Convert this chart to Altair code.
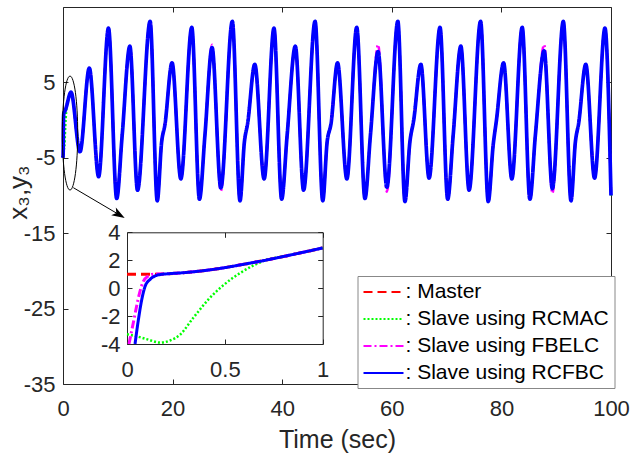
import altair as alt
import pandas as pd

# ---------------- data ----------------
SERIES = ["Master", "Slave using RCMAC", "Slave using FBELC", "Slave using RCFBC"]
COLORS = ["#ff0000", "#00ff00", "#ff00ff", "#0000ff"]
DASHES = [[9, 5], [2, 2], [8, 3, 2, 3], [1, 0]]

# common part of the start-up transient (0..1 s)
COMMON_T = [0.3, 0.4, 0.5, 0.6, 0.7, 0.8, 0.9, 1.0]
COMMON_V = [1.12, 1.27, 1.47, 1.72, 1.98, 2.27, 2.57, 2.88]

MASTER_T0 = [0.0, 0.1, 0.15, 0.2]
MASTER_V0 = [1.0, 1.0, 1.0, 1.02]
RCMAC_T0 = [0.0, 0.05, 0.1, 0.17, 0.22, 0.27, 0.34, 0.42, 0.5, 0.58, 0.65, 0.72]
RCMAC_V0 = [-3.3, -3.45, -3.65, -3.9, -3.75, -3.35, -2.1, -0.75, 0.3, 1.1, 1.65, 2.05]
FBELC_T0 = [0.0, 0.01, 0.032, 0.049, 0.066, 0.083, 0.109, 0.135, 0.2]
FBELC_V0 = [-5.0, -4.0, -2.5, -1.3, -0.25, 0.47, 0.87, 1.0, 1.02]
RCFBC_T0 = [0.0, 0.041, 0.058, 0.075, 0.092, 0.118, 0.143, 0.177, 0.2]
RCFBC_V0 = [-5.0, -4.0, -2.28, -0.85, 0.11, 0.63, 0.87, 0.99, 1.02]

# main oscillation (t > 1 s), peaks / troughs / shoulders
LATER_T = [1.46, 3.1, 4.8, 6.5, 8.3, 9.8, 10.8, 12.2, 13.6, 15.9,
           17.2, 18.0, 18.6, 19.9, 21.5, 23.5, 24.9, 25.9, 27.2, 28.8,
           30.9, 32.3, 33.1, 33.7, 35.0, 36.7, 38.5, 39.9, 40.9, 42.4,
           43.9, 46.0, 47.4, 48.2, 48.9, 50.1, 51.8, 53.6, 55.1, 56.1,
           57.5, 59.1, 61.1, 62.4, 63.3, 64.0, 65.3, 66.8, 68.8, 70.2,
           71.2, 72.6, 74.1, 76.2, 77.6, 78.5, 79.1, 80.4, 81.9, 83.8,
           85.2, 86.2, 87.8, 89.3, 91.3, 92.7, 93.5, 94.1, 95.4, 97.0,
           98.9, 100.0]
LATER_V = [3.7, -4.2, 6.9, -7.5, 12.2, -10.4, -2.0, 9.8, -9.3, 13.1,
           -10.7, -2.9, -0.6, 7.6, -7.8, 12.3, -10.5, -2.0, 9.6, -9.0,
           13.1, -10.7, -2.9, -0.4, 7.4, -7.8, 12.2, -10.5, -2.0, 9.8,
           -9.3, 13.1, -10.7, -2.9, -0.5, 7.6, -7.8, 12.3, -10.4, -2.0,
           9.1, -8.9, 13.1, -10.8, -2.9, 0.0, 7.4, -7.7, 12.3, -10.5,
           -2.0, 9.8, -9.3, 13.1, -10.8, -3.3, 0.0, 7.6, -7.8, 12.3,
           -10.5, -2.0, 9.2, -9.1, 13.1, -10.7, -2.9, -0.4, 7.4, -7.7,
           12.2, -10.0]
# FBELC slightly overshoots at some extrema
FBELC_DIFF_T = [27.2, 28.8, 57.5, 59.1, 87.8, 89.3]
FBELC_DIFF_V = [10.0, -9.4, 10.0, -9.5, 10.0, -9.7]

# annotation (ellipse + arrow) in data coordinates
ELL_T, ELL_V = [1.28], [-1.72]
ARR_T, ARR_V, ARR_T2, ARR_V2 = [1.88], [-8.96], [10.24], [-12.54]
HEAD_T, HEAD_V = [10.24], [-12.54]

MAIN_XTICKS = [0, 20, 40, 60, 80, 100]
MAIN_YTICKS = [-35, -25, -15, -5, 5]
INSET_XTICKS = [0, 0.5, 1]
INSET_YTICKS = [-4, -2, 0, 2, 4]

# ---------------- tables ----------------
rows = []
starts = {"Master": (MASTER_T0, MASTER_V0), "Slave using RCMAC": (RCMAC_T0, RCMAC_V0),
          "Slave using FBELC": (FBELC_T0, FBELC_V0), "Slave using RCFBC": (RCFBC_T0, RCFBC_V0)}
for name in SERIES:
    t0, v0 = starts[name]
    tt = list(t0) + [t for t in COMMON_T if t > t0[-1]]
    vv = list(v0) + [v for t, v in zip(COMMON_T, COMMON_V) if t > t0[-1]]
    lv = list(LATER_V)
    if name == "Slave using FBELC":
        for t, v in zip(FBELC_DIFF_T, FBELC_DIFF_V):
            lv[LATER_T.index(t)] = v
    for t, v in zip(tt + LATER_T, vv + lv):
        rows.append({"t": t, "v": v, "series": name})
df = pd.DataFrame(rows)
inset_df = df[(df.t <= 1.0) & (df.v >= -4.0)]

W, H = 548, 377
F = "Liberation Sans"
C = "#262626"

X0 = alt.Scale(domain=[0, 100], nice=False, zero=False)
Y0 = alt.Scale(domain=[-35, 15], nice=False, zero=False)
IX = alt.Scale(domain=[0, 1], range=[64, 259.7], nice=False, zero=False)
IY = alt.Scale(domain=[-4, 4], range=[337, 225.3], nice=False, zero=False)

LEG = alt.Legend(title=None, orient="none", legendX=294.5, legendY=269, direction="vertical",
                 labelExpr="': ' + datum.label", symbolType="M -1 0 L 3 0", symbolSize=400,
                 symbolStrokeWidth=2, labelFontSize=21, labelFont=F, labelColor="black",
                 fillColor="white", strokeColor="#888888", padding=5, rowPadding=6,
                 labelOffset=21, labelLimit=400)
color = alt.Color("series:N", scale=alt.Scale(domain=SERIES, range=COLORS), legend=LEG)
dash = alt.StrokeDash("series:N", scale=alt.Scale(domain=SERIES, range=DASHES), legend=LEG)

LBL = "'' + datum.value"
AX_MX = alt.Axis(orient="bottom", values=MAIN_XTICKS, labelExpr=LBL, ticks=False, tickSize=0,
                 labelFontSize=22, labelPadding=14, title="Time (sec)", titleFontSize=25,
                 titlePadding=8, domain=True)
AX_MY = alt.Axis(orient="left", values=MAIN_YTICKS, labelExpr=LBL, ticks=False, tickSize=0,
                 labelFontSize=22, labelPadding=8, title="x₃,y₃", titleFontSize=26,
                 titleAngle=270, titleX=-37, titleY=185, titleAlign="center",
                 titleBaseline="alphabetic", domain=True)
AX_MX_IN_B = alt.Axis(orient="top", offset=-H, values=MAIN_XTICKS, labels=False, domain=False,
                      tickSize=5, title=None)
AX_MY_IN_L = alt.Axis(orient="right", offset=-W, values=MAIN_YTICKS, labels=False, domain=False,
                      tickSize=5, title=None)
AX_MX_T = alt.Axis(orient="bottom", offset=-H, values=MAIN_XTICKS, labels=False, domain=True,
                   tickSize=5, title=None)
AX_MY_R = alt.Axis(orient="left", offset=-W, values=MAIN_YTICKS, labels=False, domain=True,
                   tickSize=5, title=None)

AX_IX = alt.Axis(orient="bottom", offset=-40, values=INSET_XTICKS, labelExpr=LBL, ticks=False,
                 tickSize=0, labelFontSize=22, labelPadding=15, title=None, domain=True)
AX_IY = alt.Axis(orient="left", offset=-64, values=INSET_YTICKS, labelExpr=LBL, ticks=False,
                 tickSize=0, labelFontSize=22, labelPadding=7, title=None, domain=True)
AX_IX_IN_B = alt.Axis(orient="top", offset=-337, values=INSET_XTICKS, labels=False, domain=False,
                      tickSize=5, title=None)
AX_IY_IN_L = alt.Axis(orient="right", offset=64 - W, values=INSET_YTICKS, labels=False,
                      domain=False, tickSize=5, title=None)
AX_IX_T = alt.Axis(orient="bottom", offset=225.3 - H, values=INSET_XTICKS, labels=False,
                   domain=True, tickSize=5, title=None)
AX_IY_R = alt.Axis(orient="left", offset=-259.7, values=INSET_YTICKS, labels=False, domain=True,
                   tickSize=5, title=None)


def line(data, name, width, xs, ys, ax, ay):
    return alt.Chart(data[data.series == name]).mark_line(
        interpolate="monotone", strokeWidth=width
    ).encode(
        x=alt.X("t:Q", scale=xs, axis=ax),
        y=alt.Y("v:Q", scale=ys, axis=ay),
        color=color, strokeDash=dash,
    )


main_w = {"Master": 2.5, "Slave using RCMAC": 2.5, "Slave using FBELC": 2.5, "Slave using RCFBC": 3.7}
inset_w = {"Master": 3, "Slave using RCMAC": 2.5, "Slave using FBELC": 3, "Slave using RCFBC": 3}

ell = alt.Chart(pd.DataFrame({"t": ELL_T, "v": ELL_V})).mark_point(
    shape="M 0 -1 A 0.135 1 0 1 1 0 1 A 0.135 1 0 1 1 0 -1 Z", size=12996,
    filled=False, color="black", strokeWidth=1, opacity=1
).encode(x=alt.X("t:Q", scale=X0, axis=AX_MX), y=alt.Y("v:Q", scale=Y0, axis=AX_MY))

arrow = alt.Chart(pd.DataFrame({"t": ARR_T, "v": ARR_V, "t2": ARR_T2, "v2": ARR_V2})).mark_rule(
    color="black", strokeWidth=1
).encode(x=alt.X("t:Q", scale=X0, axis=AX_MX), y=alt.Y("v:Q", scale=Y0, axis=AX_MY),
         x2="t2:Q", y2="v2:Q")

head = alt.Chart(pd.DataFrame({"t": HEAD_T, "v": HEAD_V})).mark_point(
    shape="M -1 -0.7 L 1 0 L -1 0.7 L -0.5 0 Z", size=169, filled=True, color="black",
    angle=30.5, opacity=1
).encode(x=alt.X("t:Q", scale=X0, axis=AX_MX), y=alt.Y("v:Q", scale=Y0, axis=AX_MY))

main_layer = alt.layer(
    *[line(df, s, main_w[s], X0, Y0, AX_MX, AX_MY) for s in SERIES], ell, arrow, head
)

helper_main = pd.DataFrame({"t": [0, 100], "v": [-35, 15]})
helper_inset = pd.DataFrame({"t": [0, 1], "v": [-4, 4]})


def helper(data, xs, ys, ax, ay):
    return alt.Chart(data).mark_point(opacity=0).encode(
        x=alt.X("t:Q", scale=xs, axis=ax), y=alt.Y("v:Q", scale=ys, axis=ay))


inset_layer = alt.layer(*[line(inset_df, s, inset_w[s], IX, IY, AX_IX, AX_IY) for s in SERIES])

chart = alt.layer(
    main_layer,
    helper(helper_main, X0, Y0, AX_MX_IN_B, AX_MY_IN_L),
    helper(helper_main, X0, Y0, AX_MX_T, AX_MY_R),
    inset_layer,
    helper(helper_inset, IX, IY, AX_IX_IN_B, AX_IY_IN_L),
    helper(helper_inset, IX, IY, AX_IX_T, AX_IY_R),
).resolve_scale(x="independent", y="independent").properties(
    width=W, height=H, autosize="none",
    padding={"left": 63, "top": 7, "right": 19, "bottom": 72},
    background="white",
).configure_view(stroke=None).configure_axis(
    labelFont=F, titleFont=F, labelColor=C, titleColor=C, domainColor=C, tickColor=C,
    grid=False, labelFlush=False, labelOverlap=False, titleFontWeight="normal",
    domainWidth=1, tickWidth=1,
)

chart.save("out.html", embed_options={"renderer": "svg", "actions": False})
